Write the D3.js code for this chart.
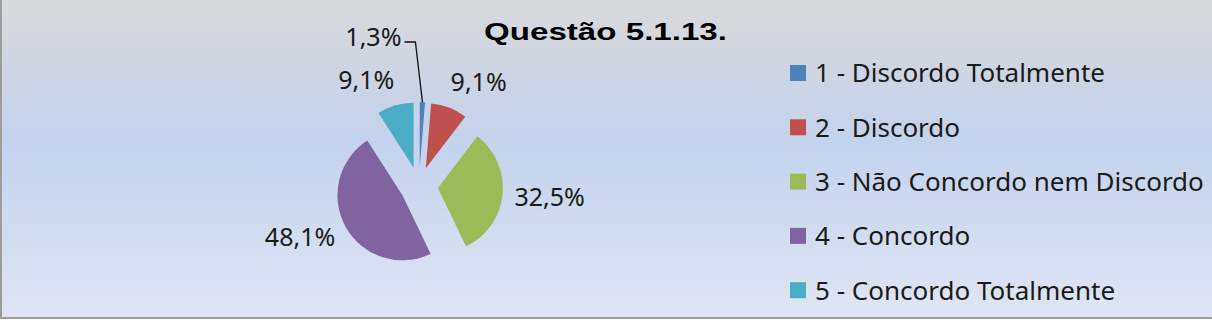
<!DOCTYPE html>
<html>
<head>
<meta charset="utf-8">
<script src="https://cdn.jsdelivr.net/npm/d3@7"></script>
<style>
  html, body { margin: 0; padding: 0; background: #fff; }
  svg { display: block; }
</style>
</head>
<body>
<div id="chart"></div>
<script>
//Chart data
const TITLE = "Questão 5.1.13.";
const categories = ["1 - Discordo Totalmente", "2 - Discordo", "3 - Não Concordo nem Discordo", "4 - Concordo", "5 - Concordo Totalmente"];
const values = [1.3, 9.1, 32.5, 48.1, 9.1];
const labels = ["1,3%", "9,1%", "32,5%", "48,1%", "9,1%"];
const colors = ["#4f81bd", "#c0504d", "#9bbb59", "#8064a2", "#4bacc6"];

//Layout
const W = 1212, H = 327;
const CX = 419, CY = 186;
const R = 65, EXPLODE = 19;
const FONT = "'Noto Sans', 'Open Sans', sans-serif";

var svg = d3.select("#chart").append("svg")
  .attr("width", W).attr("height", H);

//Background gradient
var grad = svg.append("defs").append("linearGradient")
  .attr("id", "bg").attr("x1", 0).attr("y1", 0).attr("x2", 0).attr("y2", 1);
[[0, "#d9dadc"], [0.18, "#d0d6e1"], [0.45, "#c4d2ec"], [1, "#dfe6f4"]].forEach(function(s) {
  grad.append("stop").attr("offset", s[0]).attr("stop-color", s[1]);
});

svg.append("rect")
  .attr("x", 1).attr("y", -2).attr("width", W + 2).attr("height", 320)
  .attr("fill", "url(#bg)").attr("stroke", "#9c9c9c").attr("stroke-width", 2);

//Title (reference glyphs are wide, so stretch to the measured width)
svg.append("text")
  .attr("x", 484).attr("y", 40)
  .attr("font-family", "'Liberation Sans', Arial, sans-serif")
  .attr("font-weight", "bold").attr("font-size", 24)
  .attr("textLength", 243).attr("lengthAdjust", "spacingAndGlyphs")
  .attr("fill", "#000")
  .text(TITLE);

//Pie
var pie = d3.pie().sort(null).value(function(d) { return d; });
var arcs = pie(values);
var arc = d3.arc().innerRadius(0).outerRadius(R);

var g = svg.append("g").attr("transform", "translate(" + CX + "," + CY + ")");

function mid(d) { return (d.startAngle + d.endAngle) / 2; }

g.selectAll("path.slice")
  .data(arcs)
  .enter().append("path")
  .attr("class", "slice")
  .attr("d", arc)
  .attr("fill", function(d, i) { return colors[i]; })
  .attr("transform", function(d) {
    var a = mid(d);
    return "translate(" + (Math.sin(a) * EXPLODE) + "," + (-Math.cos(a) * EXPLODE) + ")";
  });

//Data labels
var LABEL_R = R + EXPLODE + 12;
arcs.forEach(function(d, i) {
  var a = mid(d);
  var s = Math.sin(a), c = Math.cos(a);
  if (values[i] < 3) {
    //small slice: label pulled out with a leader line
    var p0 = [s * (R + EXPLODE), -c * (R + EXPLODE)];
    var p1 = [p0[0] - 7, -144];
    var p2 = [p1[0] - 11, p1[1]];
    g.append("polyline")
      .attr("points", [p0, p1, p2].map(function(p) { return p.join(","); }).join(" "))
      .attr("fill", "none").attr("stroke", "#111").attr("stroke-width", 1.3);
    g.append("text")
      .attr("x", p2[0] - 3).attr("y", p2[1] - 5)
      .attr("dy", "0.36em")
      .attr("text-anchor", "end")
      .attr("font-family", FONT).attr("font-size", 25)
      .attr("fill", "#1a1a1a")
      .text(labels[i]);
    return;
  }
  var x = s * LABEL_R - (c > 0 ? s * 8 : 0);
  var y = -c * LABEL_R - c * 8 - Math.max(c, 0) * 7;
  var anchor = s > 0.2 ? "start" : (s < -0.2 ? "end" : "middle");
  g.append("text")
    .attr("x", x).attr("y", y)
    .attr("dy", "0.36em")
    .attr("text-anchor", anchor)
    .attr("font-family", FONT).attr("font-size", 25)
    .attr("fill", "#1a1a1a")
    .text(labels[i]);
});

//Legend
var legend = svg.append("g").attr("transform", "translate(790,73)");
var row = legend.selectAll("g.item")
  .data(categories)
  .enter().append("g")
  .attr("class", "item")
  .attr("transform", function(d, i) { return "translate(0," + (i * 54.3) + ")"; });

row.append("rect")
  .attr("x", 0).attr("y", -8).attr("width", 16).attr("height", 16)
  .attr("fill", function(d, i) { return colors[i]; });

row.append("text")
  .attr("x", 25).attr("y", 0).attr("dy", "0.36em")
  .attr("font-family", FONT).attr("font-size", 26)
  .attr("fill", "#1a1a1a")
  .text(function(d) { return d; });
</script>
</body>
</html>
